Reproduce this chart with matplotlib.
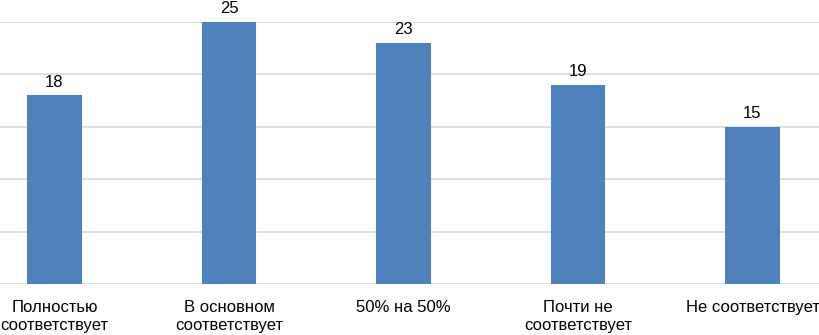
import matplotlib.pyplot as plt

categories = ['Полностью\nсоответствует', 'В основном\nсоответствует', '50% на 50%',
              'Почти не\nсоответствует', 'Не соответствует']
values = [18, 25, 23, 19, 15]


def main():
    plt.rcParams['font.family'] = ['Liberation Sans', 'DejaVu Sans']
    fig = plt.figure(figsize=(8.2, 3.35), dpi=100)
    ax = fig.add_axes([0, 50.7 / 335, 1, 262.6 / 335])

    x = list(range(len(categories)))
    bars = ax.bar(x, values, width=0.315, color='#4f81bd', zorder=3)

    ax.set_xlim(-54.5 / 174.5, (820 - 54.5) / 174.5)
    ax.set_ylim(0, 25)
    ax.set_yticks([0, 5, 10, 15, 20, 25])
    ax.yaxis.grid(True, color='#d9d9d9', linewidth=1.2, zorder=0)
    ax.tick_params(left=False, labelleft=False, bottom=False)
    for s in ax.spines.values():
        s.set_visible(False)

    ax.set_xticks(x)
    ax.set_xticklabels(categories, fontsize=12, linespacing=1.2, va='top')
    ax.tick_params(axis='x', pad=8)

    for b, v in zip(bars, values):
        ax.annotate(str(v), (b.get_x() + b.get_width() / 2, v),
                    xytext=(0, 4), textcoords='offset points',
                    ha='center', va='bottom', fontsize=12, annotation_clip=False)

    fig.savefig('out.png', dpi=100)


if __name__ == "__main__":
    main()
